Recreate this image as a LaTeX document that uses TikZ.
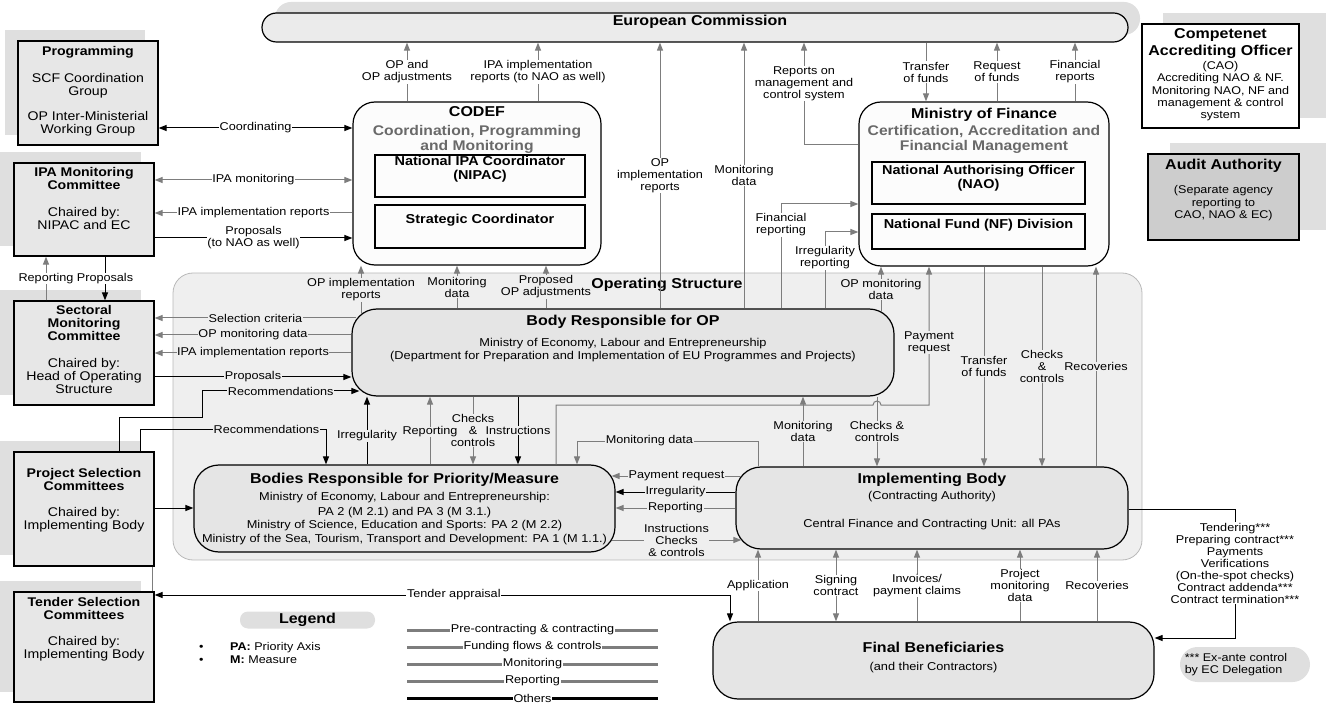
\documentclass[tikz,border=0pt]{standalone}
\usepackage{fontspec}
\setmainfont{Liberation Sans}[FakeStretch=1.12]
\usepackage{xcolor}
\definecolor{boxgray}{RGB}{231,231,231}
\definecolor{dropgray}{RGB}{223,223,223}
\definecolor{opgray}{RGB}{239,239,239}
\definecolor{opedge}{RGB}{185,185,185}
\definecolor{bodygray}{RGB}{229,229,229}
\definecolor{ecgray}{RGB}{235,235,235}
\definecolor{flowgray}{RGB}{125,125,125}
\definecolor{subgray}{RGB}{105,105,105}
\definecolor{auditgray}{RGB}{205,205,205}
\definecolor{paper}{RGB}{252,252,252}
\usepackage{tikz}
\usetikzlibrary{positioning,arrows.meta}

\newcommand{\lblfont}{\fontsize{11.3}{12}\selectfont}
\newcommand{\bigttl}{\fontsize{14.3}{15}\selectfont\bfseries}
\newcommand{\subttl}{\fontsize{14}{15}\selectfont\bfseries}
\newcommand{\sidettl}{\fontsize{12.6}{13}\selectfont\bfseries}
\newcommand{\sidetxt}{\fontsize{12.6}{13}\selectfont}
\newcommand{\inttl}{\fontsize{12.9}{14}\selectfont\bfseries}
\newcommand{\bodytxt}{\fontsize{11.4}{13}\selectfont}
\newcommand{\smalltxt}{\fontsize{11.2}{12.3}\selectfont}

\tikzset{
  flowtip/.tip={Triangle[length=8pt,width=6pt]},
  sidebox/.style={draw, line width=1.2pt, fill=boxgray, inner sep=0pt, minimum width=140pt},
  panel/.style={draw, line width=1.2pt, fill=paper, rounded corners=22pt, inner sep=0pt},
  inbox/.style={draw, line width=1.2pt, fill=paper, inner sep=0pt},
  body/.style={draw, line width=1.2pt, fill=bodygray, rounded corners=25pt, inner sep=0pt},
  boxtext/.style={inner sep=0pt, align=center},
  lbl/.style={font=\lblfont, align=center, inner sep=0.6pt, fill=white},
  lblos/.style={lbl, fill=opgray},
  gflow/.style={draw=flowgray, line width=1pt, -flowtip},
  gboth/.style={draw=flowgray, line width=1pt, flowtip-flowtip},
  bflow/.style={draw=black, line width=1pt, -flowtip},
  bboth/.style={draw=black, line width=1pt, flowtip-flowtip},
}

\begin{document}
\begin{tikzpicture}[x=1pt, y=-1pt]
\useasboundingbox (0,0) rectangle (1326,703);

% shadows
\fill[dropgray, rounded corners=16pt] (275,2) rectangle (1140,35);
\fill[dropgray] (5,30) rectangle (145,135);
\fill[dropgray] (0,152) rectangle (141,246);
\fill[dropgray] (0,290) rectangle (141,395);
\fill[dropgray] (0,441) rectangle (141,555);
\fill[dropgray] (0,581) rectangle (141,692);
\fill[dropgray] (1163,13) rectangle (1326,118);
\fill[dropgray] (1170,143) rectangle (1326,230);

\node[draw=opedge, line width=0.8pt, fill=opgray, rounded corners=20pt, inner sep=0pt,
      minimum width=969pt, minimum height=287pt] (opstr) at (657.5,416.5) {};
\node[font=\bigttl, inner sep=0pt] (opstr-t) at (667,285) {Operating Structure};

\node[draw, line width=1.2pt, fill=ecgray, rounded corners=14.5pt, inner sep=0pt,
      minimum width=866pt, minimum height=29pt] (ec) at (695,27.5) {};
\node[font=\bigttl, inner sep=0pt] (ec-t) at (700,22) {European Commission};

% committees on the left
\node[sidebox, minimum height=104pt] (prog) at (88,93) {};
\node[boxtext, font=\sidetxt, below=6pt of prog.north] (prog-t)
  {{\sidettl Programming}\\[14pt]SCF Coordination\\Group\\[12pt]OP Inter-Ministerial\\Working Group};
\node[sidebox, minimum height=93pt] (ipamc) at (84,209.5) {};
\node[boxtext, font=\sidetxt, below=5pt of ipamc.north] (ipamc-t)
  {{\sidettl IPA Monitoring}\\{\sidettl Committee}\\[14pt]Chaired by:\\NIPAC and EC};
\node[sidebox, minimum height=104pt] (smc) at (84,353) {};
\node[boxtext, font=\sidetxt, below=5pt of smc.north] (smc-t)
  {{\sidettl Sectoral}\\{\sidettl Monitoring}\\{\sidettl Committee}\\[14pt]Chaired by:\\Head of Operating\\Structure};
\node[sidebox, minimum height=114pt] (psc) at (84,509) {};
\node[boxtext, font=\sidetxt, below=17pt of psc.north] (psc-t)
  {{\sidettl Project Selection}\\{\sidettl Committees}\\[13pt]Chaired by:\\Implementing Body};
\node[sidebox, minimum height=110pt] (tsc) at (84,647) {};
\node[boxtext, font=\sidetxt, below=6pt of tsc.north] (tsc-t)
  {{\sidettl Tender Selection}\\{\sidettl Committees}\\[13pt]Chaired by:\\Implementing Body};

% CODEF
\node[panel, minimum width=248pt, minimum height=163pt] (codef) at (477,183.5) {};
\node[boxtext, font=\subttl, text=subgray, below=5pt of codef.north] (codef-t)
  {{\bigttl\color{black}CODEF}\\[4pt]Coordination, Programming\\and Monitoring};
\node[inbox, minimum width=210pt, minimum height=42pt] (nipac) at (480,176) {};
\node[boxtext, font=\inttl, below=2pt of nipac.north] (nipac-t) {National IPA Coordinator\\(NIPAC)};
\node[inbox, minimum width=210pt, minimum height=43pt] (stratc) at (480,226.5) {};
\node[boxtext, font=\inttl, below=10pt of stratc.north] (stratc-t) {Strategic Coordinator};

% Ministry of Finance
\node[panel, minimum width=250pt, minimum height=164pt] (mof) at (984,184) {};
\node[boxtext, font=\subttl, text=subgray, below=7pt of mof.north] (mof-t)
  {{\bigttl\color{black}Ministry of Finance}\\[2pt]Certification, Accreditation and\\Financial Management};
\node[inbox, minimum width=213pt, minimum height=42pt] (nao) at (978.5,183) {};
\node[boxtext, font=\inttl, below=3.5pt of nao.north] (nao-t) {National Authorising Officer\\(NAO)};
\node[inbox, minimum width=213pt, minimum height=35pt] (nf) at (978.5,231.5) {};
\node[boxtext, font=\inttl, below=5.5pt of nf.north] (nf-t) {National Fund (NF) Division};

\node[draw, line width=1.2pt, fill=white, inner sep=0pt, minimum width=157pt, minimum height=104pt] (cao) at (1220.5,76) {};
\node[boxtext, font=\smalltxt, below=5pt of cao.north] (cao-t)
  {{\bigttl Competenet}\\[2.7pt]{\bigttl Accrediting Officer}\\[1.7pt](CAO)\\Accrediting NAO \& NF.\\Monitoring NAO, NF and\\management \& control\\system};
\node[draw, line width=1.2pt, fill=auditgray, inner sep=0pt, minimum width=151pt, minimum height=86pt] (audit) at (1223.5,197) {};
\node[boxtext, font=\smalltxt, below=6pt of audit.north] (audit-t)
  {{\bigttl Audit Authority}\\[11.7pt](Separate agency\\reporting to\\CAO, NAO \& EC)};

% operating structure bodies
\node[body, minimum width=542pt, minimum height=87pt] (bro) at (623,352.5) {};
\node[boxtext, font=\bodytxt, below=7pt of bro.north] (bro-t)
  {{\bigttl Body Responsible for OP}\\[8pt]Ministry of Economy, Labour and Entrepreneurship\\(Department for Preparation and Implementation of EU Programmes and Projects)};
\node[body, minimum width=421pt, minimum height=87pt] (bpm) at (404.5,508.5) {};
\node[boxtext, font=\bodytxt, below=9pt of bpm.north] (bpm-t)
  {{\bigttl Bodies Responsible for Priority/Measure}\\[4pt]Ministry of Economy, Labour and Entrepreneurship:\\[2pt]PA 2 (M 2.1) and PA 3 (M 3.1.)\\Ministry of Science, Education and Sports: PA 2 (M 2.2)\\[1pt]Ministry of the Sea, Tourism, Transport and Development: PA 1 (M 1.1.)};
\node[body, minimum width=392pt, minimum height=82pt] (ib) at (932,508) {};
\node[boxtext, font=\bodytxt, below=7pt of ib.north] (ib-t)
  {{\bigttl Implementing Body}\\[3pt](Contracting Authority)\\[15pt]Central Finance and Contracting Unit: all PAs};
\node[body, minimum width=441pt, minimum height=77pt] (fb) at (933.5,660.5) {};
\node[boxtext, font=\bodytxt, below=21pt of fb.north] (fb-t)
  {{\bigttl Final Beneficiaries}\\[5pt](and their Contractors)};

\node[fill=dropgray, rounded corners=17.5pt, inner sep=0pt, minimum width=130pt, minimum height=35pt] (note) at (1245,664.5) {};
\node[boxtext, font=\smalltxt, align=left] (note-t) at (1236,664.5) {*** Ex-ante control\\by EC Delegation};

% legend
\node[fill=dropgray, rounded corners=8pt, inner sep=0pt, minimum width=135pt, minimum height=17pt, font=\bigttl] (legend) at (307.5,620) {Legend};
\node[anchor=west, font=\smalltxt, inner sep=0pt] (abbr-pa) at (199,648) {\makebox[31pt][l]{\textbullet}\textbf{PA:} Priority Axis};
\node[anchor=west, font=\smalltxt, inner sep=0pt] (abbr-m) at (199,660) {\makebox[31pt][l]{\textbullet}\textbf{M:} Measure};
\foreach \kind/\yy/\col in {Pre-contracting \& contracting/630/flowgray, Funding flows \& controls/647/flowgray,
                            Monitoring/664/flowgray, Reporting/681/flowgray, Others/698/black}
  \draw[line width=3pt, \col] (407,\yy) -- node[lbl, text=black]{\kind} (658,\yy);

% flows to and from the European Commission
\draw[gflow] (codef.north -| 407,0) -- node[lbl]{OP and\\OP adjustments} (ec.south -| 407,0);
\draw[gflow] (codef.north -| 538,0) -- node[lbl]{IPA implementation\\reports (to NAO as well)} (ec.south -| 538,0);
\draw[gflow] (bro.north -| 660,0) -- node[lbl]{OP\\implementation\\reports} (ec.south -| 660,0);
\draw[gflow] (bro.north -| 744,0) -- node[lbl]{Monitoring\\data} (ec.south -| 744,0);
\draw[gflow] (mof.west |- 0,145) -| node[lbl, pos=0.8]{Reports on\\management and\\control system} (ec.south -| 804,0);
\draw[gflow] (ec.south -| 926,0) -- node[lbl]{Transfer\\of funds} (mof.north -| 926,0);
\draw[gflow] (mof.north -| 997,0) -- node[lbl]{Request\\of funds} (ec.south -| 997,0);
\draw[gflow] (mof.north -| 1075,0) -- node[lbl]{Financial\\reports} (ec.south -| 1075,0);

% committees
\draw[bboth] (prog.east |- 0,128) -- node[lbl]{Coordinating} (codef.west |- 0,128);
\draw[gboth] (ipamc.east |- 0,180) -- node[lbl]{IPA monitoring} (codef.west |- 0,180);
\draw[gflow] (codef.west |- 0,213) -- node[lbl]{IPA implementation reports} (ipamc.east |- 0,213);
\draw[bflow] (ipamc.east |- 0,238) -- node[lbl]{Proposals\\(to NAO as well)} (codef.west |- 0,238);
\draw[gflow] (smc.north -| 46,0) -- node[lbl]{Reporting} (ipamc.south -| 46,0);
\draw[bflow] (ipamc.south -| 105,0) -- node[lbl]{Proposals} (smc.north -| 105,0);
\draw[gflow] ([xshift=5pt]bro.west |- 0,318) -- node[lblos]{Selection criteria} (smc.east |- 0,318);
\draw[gflow] (bro.west |- 0,335) -- node[lblos]{OP monitoring data} (smc.east |- 0,335);
\draw[gflow] (bro.west |- 0,353) -- node[lblos]{IPA implementation reports} (smc.east |- 0,353);
\draw[bflow] (smc.east |- 0,377) -- node[lblos]{Proposals} (bro.west |- 0,377);
\draw[bflow] (psc.north -| 119,0) |- (202,417) |- node[lblos, pos=0.75]{Recommendations} ([xshift=8pt]bro.west |- 0,391);
\draw[bflow] (psc.north -| 140,0) |- node[lblos, pos=0.84]{Recommendations} (326,429) -- (bpm.north -| 326,0);
\draw[bflow] (psc.east |- 0,508) -- (bpm.west |- 0,508);
\draw[flowgray, line width=0.8pt] (psc.south -| 152,0) -- (tsc.north -| 152,0);
\draw[bboth] (tsc.east |- 0,595) -| node[lbl, pos=0.26]{Tender appraisal} (fb.north -| 730,0);

% CODEF and operating structure
\draw[gflow] ([yshift=-6pt]bro.north -| 361,0) -- node[lblos]{OP implementation\\reports} (codef.south -| 361,0);
\draw[gflow] (bro.north -| 457,0) -- node[lblos]{Monitoring\\data} (codef.south -| 457,0);
\draw[gflow] (bro.north -| 546,0) -- node[lblos]{Proposed\\OP adjustments} (codef.south -| 546,0);
\draw[bflow] (bpm.north -| 367,0) -- node[lblos, pos=0.42]{Irregularity} (bro.south -| 367,0);
\draw[gflow] (bro.south -| 473,0) -- node[lblos]{Checks\\\&\\controls} (bpm.north -| 473,0);
\draw[gflow] (bpm.north -| 430,0) -- node[lblos, inner sep=0pt, pos=0.48]{Reporting} (bro.south -| 430,0);
\draw[bflow] (bro.south -| 518,0) -- node[lblos]{Instructions} (bpm.north -| 518,0);
\draw[gflow] (ib.north -| 758,0) |- node[lblos, pos=0.8]{Monitoring data} (577,441) -- (bpm.north -| 577,0);
\draw[gflow] (bpm.north -| 556,0) |- (873,405) arc[start angle=180, end angle=360, radius=4] -- (929,405)
  -- node[lblos, pos=0.45]{Payment\\request} (mof.south -| 929,0);
\draw[gflow] (ib.north -| 803,0) -- node[lblos]{Monitoring\\data} (bro.south -| 803,0);
\draw[gflow] (bro.south -| 877,0) -- node[lblos]{Checks \&\\controls} (ib.north -| 877,0);

% Ministry of Finance and operating structure
\draw[gflow] (bro.north -| 781,0) |- node[lbl, pos=0.4]{Financial\\reporting} (mof.west |- 0,204);
\draw[gflow] (bro.north -| 825,0) |- node[lbl, pos=0.33]{Irregularity\\reporting} (mof.west |- 0,232);
\draw[gflow] ([yshift=-4pt]bro.north -| 881,0) -- node[lblos]{OP monitoring\\data} (mof.south -| 881,0);
\draw[gflow] (mof.south -| 984,0) -- node[lblos]{Transfer\\of funds} (ib.north -| 984,0);
\draw[gflow] (mof.south -| 1042,0) -- node[lblos]{Checks\\\&\\controls} (ib.north -| 1042,0);
\draw[gflow] (ib.north -| 1096,0) -- node[lblos]{Recoveries} (mof.south -| 1096,0);

% implementing body
\draw[gflow] ([xshift=6pt]ib.west |- 0,476) -- node[lblos]{Payment request} ([xshift=-4pt]bpm.east |- 0,476);
\draw[bflow] (ib.west |- 0,492) -- node[lblos]{Irregularity} (bpm.east |- 0,492);
\draw[gflow] (ib.west |- 0,508) -- node[lblos]{Reporting} (bpm.east |- 0,508);
\draw[gflow] ([xshift=-4pt]bpm.east |- 0,540) -- node[lblos]{Instructions\\Checks\\\& controls} ([xshift=6pt]ib.west |- 0,540);
\draw[gflow] (fb.north -| 758,0) -- node[lbl]{Application} (ib.south -| 758,0);
\draw[gboth] (fb.north -| 836,0) -- node[lbl]{Signing\\contract} (ib.south -| 836,0);
\draw[gflow] (fb.north -| 917,0) -- node[lbl]{Invoices/\\payment claims} (ib.south -| 917,0);
\draw[gflow] (fb.north -| 1020,0) -- node[lbl]{Project\\monitoring\\data} (ib.south -| 1020,0);
\draw[gflow] (fb.north -| 1097,0) -- node[lbl]{Recoveries} (ib.south -| 1097,0);
\draw[bflow] (ib.east |- 0,509) -| node[lbl, pos=0.71]{Tendering***\\Preparing contract***\\Payments\\Verifications\\(On-the-spot checks)\\Contract addenda***\\Contract termination***} (1235,638)
  -- (fb.east |- 0,638);
\end{tikzpicture}
\end{document}
